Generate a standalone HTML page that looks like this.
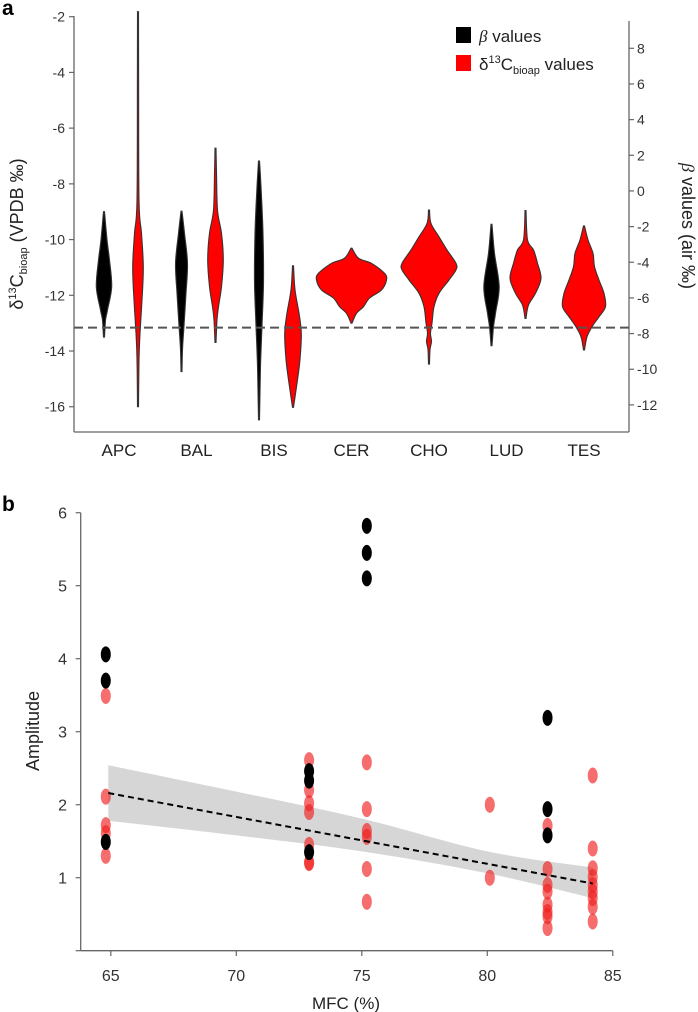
<!DOCTYPE html>
<html><head><meta charset="utf-8"><style>
html,body{margin:0;padding:0;background:#fff;}
svg{display:block;font-family:"Liberation Sans",sans-serif;}
</style></head><body>
<svg id="chart" width="698" height="1012" viewBox="0 0 698 1012">
<text x="2" y="15" font-size="21" font-weight="bold">a</text>
<text x="2" y="511" font-size="21" font-weight="bold">b</text>
<g id="pa"></g>
<g id="pb"></g>
<g>
<rect x="456" y="27" width="15" height="16" fill="#000"/>
<text x="479" y="42" font-size="17" fill="#222"><tspan font-style="italic" font-family="Liberation Serif">β</tspan> values</text>
<rect x="456" y="55" width="15" height="16" fill="#f00"/>
<text x="479" y="70" font-size="17" fill="#222">δ<tspan font-size="11" dy="-7">13</tspan><tspan dy="7">C</tspan><tspan font-size="11" dy="4">bioap</tspan><tspan dy="-4"> values</tspan></text>
</g>
<text transform="translate(23,234) rotate(-90)" text-anchor="middle" font-size="18" fill="#222">δ<tspan font-size="11" dy="-7">13</tspan><tspan dy="7">C</tspan><tspan font-size="11" dy="4">bioap</tspan><tspan dy="-4"> (VPDB ‰)</tspan></text>
<text transform="translate(682,226) rotate(90)" text-anchor="middle" font-size="18" fill="#222"><tspan font-style="italic" font-family="Liberation Serif">β</tspan> values  (air ‰)</text>
<text transform="translate(39,731) rotate(-90)" text-anchor="middle" font-size="18" fill="#222">Amplitude</text>
<text x="346" y="1009" text-anchor="middle" font-size="17" fill="#222">MFC (%)</text>
</svg>
<script>
// ---------- Panel a data ----------
const categories = ["APC","BAL","BIS","CER","CHO","LUD","TES"];
const leftTicks = [-2,-4,-6,-8,-10,-12,-14,-16];
const rightTicks = [8,6,4,2,0,-2,-4,-6,-8,-10,-12];
const thresholdValue = -13.16;
// violin profiles: [value (left axis), density half-width]
const violinSeries = ["beta","d13c","beta","d13c","beta","d13c","d13c","d13c","beta","d13c","d13c"];
const violinCategory = [0,0,1,1,2,2,3,4,5,5,6];
const violinProfiles = [
 [[-9.0,0],[-10.0,3],[-10.73,5.5],[-11.69,7.7],[-12.53,3.5],[-12.9,1.5],[-13.5,0]],
 [[-1.82,0],[-4,0.6],[-8.58,1],[-9.77,3.5],[-10.97,5.3],[-12.17,4],[-13.36,2],[-14.3,1],[-16.0,0]],
 [[-8.98,0],[-9.77,3],[-10.85,6],[-11.93,4.5],[-13.1,2.5],[-13.96,1],[-14.74,0]],
 [[-6.72,0],[-7.62,1],[-8.94,2],[-9.77,6],[-10.73,7.8],[-11.69,6],[-12.41,3],[-12.89,1.5],[-13.69,0]],
 [[-7.18,0],[-8.1,2],[-9.77,4],[-11.56,4.5],[-13.1,3],[-14.56,1.5],[-16.47,0]],
 [[-10.94,0],[-11.8,2],[-12.64,6],[-13.36,8.3],[-14.3,7],[-15.16,4],[-16.02,0]],
 [[-10.31,0],[-10.67,7],[-10.85,20],[-11.21,33],[-11.45,35],[-11.81,30],[-12.1,18],[-12.41,12],[-12.65,5],[-13.0,0]],
 [[-8.94,0],[-9.42,2],[-9.9,10],[-10.37,18],[-10.85,27],[-11.09,27],[-11.45,20],[-11.93,10],[-12.41,5],[-13.0,3],[-13.36,1.5],[-13.66,2.5],[-13.96,1],[-14.47,0]],
 [[-9.45,0],[-10.49,3],[-11.69,7.7],[-12.65,4],[-13.13,2],[-13.81,0]],
 [[-8.96,0],[-10.01,2],[-10.37,8],[-10.85,12],[-11.39,15.5],[-11.93,10],[-12.35,3],[-12.83,0]],
 [[-9.51,0],[-10.01,4],[-10.49,9],[-10.97,10.5],[-11.45,15],[-11.93,20],[-12.41,21.5],[-12.77,15],[-13.13,8],[-13.49,3],[-13.96,0]]
];
// ---------- Panel b data ----------
const mfcBeta = [64.8,64.8,64.8,72.9,72.9,72.9,75.2,75.2,75.2,82.4,82.4,82.4];
const ampBeta = [4.06,3.70,1.49,2.46,2.33,1.35,5.82,5.45,5.10,3.19,1.94,1.58];
const mfcD13c = [64.8,64.8,64.8,64.8,64.8,72.9,72.9,72.9,72.9,72.9,72.9,72.9,75.2,75.2,75.2,75.2,75.2,75.2,80.1,80.1,82.4,82.4,82.4,82.4,82.4,82.4,82.4,82.4,84.2,84.2,84.2,84.2,84.2,84.2,84.2,84.2,84.2];
const ampD13c = [3.49,2.11,1.72,1.61,1.30,2.61,2.20,2.02,1.90,1.45,1.21,1.20,2.58,1.94,1.64,1.56,1.12,0.67,2.0,1.0,1.71,1.12,0.90,0.81,0.63,0.53,0.47,0.31,2.40,1.40,1.13,1.01,0.90,0.81,0.72,0.60,0.40];
const fitX = [64.9,84.2];
const fitY = [2.16,0.92];
const bandX = [64.9,70,75,80,84.2];
const bandUpper = [2.54,2.18,1.81,1.36,1.14];
const bandLower = [1.78,1.58,1.36,1.06,0.72];
const xTicksB = [65,70,75,80,85];
const yTicksB = [0,1,2,3,4,5,6];

const NS="http://www.w3.org/2000/svg";
function mk(tag,attrs,parent){const e=document.createElementNS(NS,tag);for(const k in attrs)e.setAttribute(k,attrs[k]);parent.appendChild(e);return e;}

// ---------- Panel a ----------
const pa=document.getElementById('pa');
const yL=v=>16.7+(-2-v)*27.86;
const yR=v=>48.3+(8-v)*17.83;
const catX=i=>119+i*77.5;
const axL=74, axR=629, axB=432;
let e;
e=mk('line',{x1:axL,y1:16,x2:axL,y2:axB,stroke:'#666','stroke-width':1.3},pa);


e=mk('line',{x1:axR,y1:21,x2:axR,y2:axB,stroke:'#666','stroke-width':1.3},pa);


e=mk('line',{x1:axL,y1:axB,x2:axR,y2:axB,stroke:'#666','stroke-width':1.3},pa);


leftTicks.forEach(t=>{
  const y=yL(t);
  e=mk('line',{x1:axL-5,y1:y,x2:axL,y2:y,stroke:'#666','stroke-width':1.2},pa);
  
  
  e=mk('text',{x:axL-9,y:y+5,'text-anchor':'end','font-size':14,fill:'#333'},pa);
  e.textContent=t;
  
  
});
rightTicks.forEach(t=>{
  const y=yR(t);
  e=mk('line',{x1:axR,y1:y,x2:axR+5,y2:y,stroke:'#666','stroke-width':1.2},pa);
  
  
  e=mk('text',{x:axR+8,y:y+5,'text-anchor':'start','font-size':14,fill:'#333'},pa);
  e.textContent=t;
  
  
});
categories.forEach((c,i)=>{
  e=mk('text',{x:catX(i),y:456,'text-anchor':'middle','font-size':17,fill:'#222'},pa);
  e.textContent=c;
  
  
});
function crPath(pts){
  let d='';
  for(let i=0;i<pts.length-1;i++){
    const p0=pts[Math.max(0,i-1)],p1=pts[i],p2=pts[i+1],p3=pts[Math.min(pts.length-1,i+2)];
    const c1=[p1[0]+(p2[0]-p0[0])/6,p1[1]+(p2[1]-p0[1])/6];
    const c2=[p2[0]-(p3[0]-p1[0])/6,p2[1]-(p3[1]-p1[1])/6];
    d+=` C${c1[0].toFixed(1)},${c1[1].toFixed(1)} ${c2[0].toFixed(1)},${c2[1].toFixed(1)} ${p2[0].toFixed(1)},${p2[1].toFixed(1)}`;
  }
  return d;
}
violinProfiles.forEach((prof,k)=>{
  const ci=violinCategory[k];
  const paired=violinCategory.filter(v=>v===ci).length>1;
  const isBeta=violinSeries[k]==='beta';
  const cx=catX(ci)+(paired?(isBeta?-15:19):0);
  const right=prof.map(p=>[cx+Math.max(p[1],0.5),yL(p[0])]);
  const left=prof.map(p=>[cx-Math.max(p[1],0.5),yL(p[0])]).reverse();
  const d='M'+right[0][0].toFixed(1)+','+right[0][1].toFixed(1)+crPath(right)+' L'+left[0][0].toFixed(1)+','+left[0][1].toFixed(1)+crPath(left)+' Z';
  e=mk('path',{d:d,fill:isBeta?'#000':'#ff0000',stroke:'#333','stroke-width':1.1},pa);
  
  
});
e=mk('line',{x1:axL,y1:yL(thresholdValue),x2:axR,y2:yL(thresholdValue),stroke:'#555','stroke-width':2,'stroke-dasharray':'9,5'},pa);



// ---------- Panel b ----------
const pb=document.getElementById('pb');
const xB=v=>110.8+(v-65)*25.1;
const yB=v=>950.7-v*73;
e=mk('line',{x1:80.7,y1:yB(6),x2:80.7,y2:yB(0),stroke:'#666','stroke-width':1.3},pb);


e=mk('line',{x1:80.7,y1:yB(0),x2:xB(85),y2:yB(0),stroke:'#666','stroke-width':1.3},pb);


yTicksB.forEach(t=>{
  const y=yB(t);
  e=mk('line',{x1:75.7,y1:y,x2:80.7,y2:y,stroke:'#666','stroke-width':1.2},pb);
  
  
  if(t>0){
    e=mk('text',{x:67,y:y+6,'text-anchor':'end','font-size':16,fill:'#333'},pb);
    e.textContent=t;
    
    
  }
});
xTicksB.forEach(t=>{
  const x=xB(t);
  e=mk('line',{x1:x,y1:950.7,x2:x,y2:956,stroke:'#666','stroke-width':1.2},pb);
  
  
  e=mk('text',{x:x,y:981,'text-anchor':'middle','font-size':16,fill:'#333'},pb);
  e.textContent=t;
  
  
});
// band
const up=bandX.map((x,i)=>[xB(x),yB(bandUpper[i])]);
const lo=bandX.map((x,i)=>[xB(x),yB(bandLower[i])]).reverse();
const bd='M'+up[0][0]+','+up[0][1]+crPath(up)+' L'+lo[0][0]+','+lo[0][1]+crPath(lo)+' Z';
e=mk('path',{d:bd,fill:'#cfcfcf','fill-opacity':0.85,stroke:'none'},pb);


mfcD13c.forEach((m,i)=>{
  e=mk('ellipse',{cx:xB(m),cy:yB(ampD13c[i]),rx:5,ry:8,fill:'#f01e1e','fill-opacity':0.65},pb);
  
  
});
mfcBeta.forEach((m,i)=>{
  e=mk('ellipse',{cx:xB(m),cy:yB(ampBeta[i]),rx:5,ry:8,fill:'#000'},pb);
  
  
});
e=mk('line',{x1:xB(fitX[0]),y1:yB(fitY[0]),x2:xB(fitX[1]),y2:yB(fitY[1]),stroke:'#000','stroke-width':2,'stroke-dasharray':'6,4'},pb);


</script>
</body></html>
